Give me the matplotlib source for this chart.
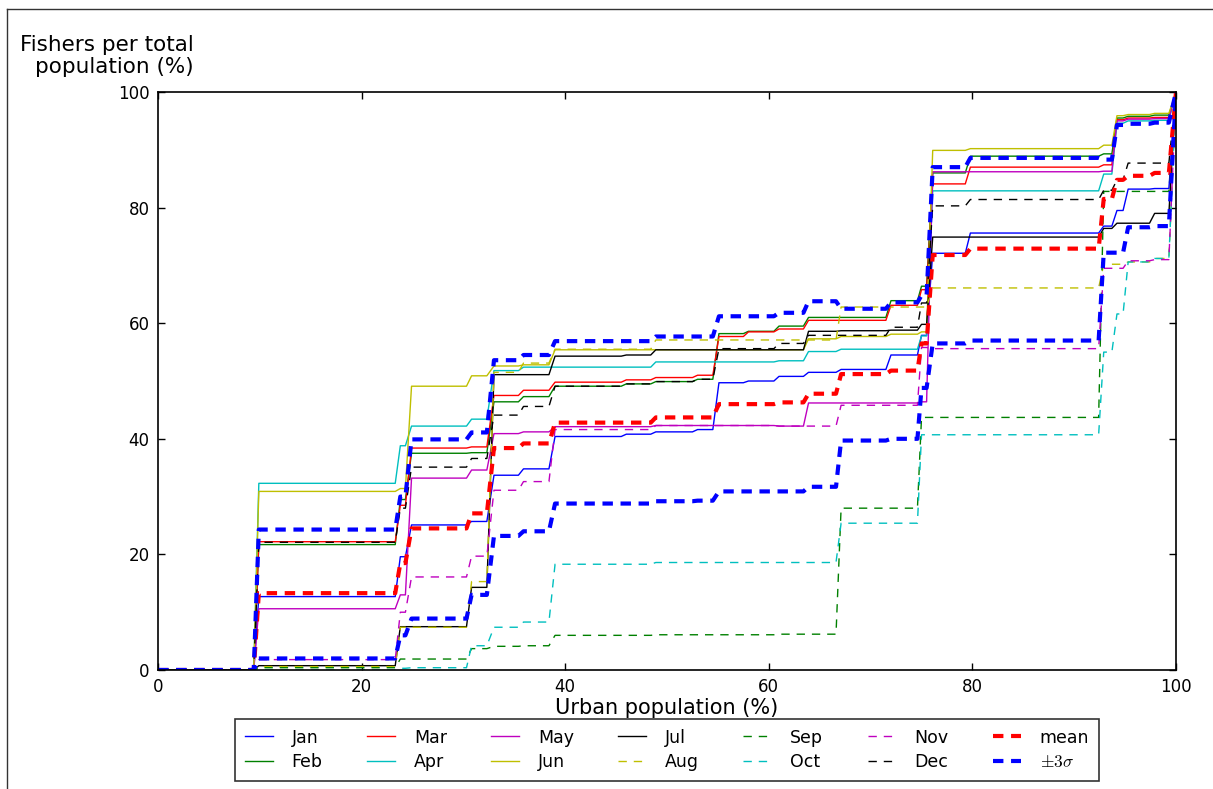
import matplotlib.pyplot as plt
from matplotlib.lines import Line2D

plt.rcParams['font.family'] = 'DejaVu Sans'
plt.rcParams['mathtext.fontset'] = 'cm'
plt.rcParams['lines.scale_dashes'] = False

# flat runs of the cumulative curves, run i goes from seg_start[i] to seg_end[i]
seg_start = [0, 9.9, 23.8, 24.9, 30.8, 33.0, 35.9, 39.0, 46.0, 48.9, 53.0, 55.1, 58.0,
             61.0, 63.9, 67.1, 72.0, 75.0, 76.1, 79.8, 92.9, 94.2, 95.3, 97.9, 100]
seg_end = [9.4, 23.3, 24.3, 30.3, 32.3, 35.4, 38.4, 45.5, 48.4, 52.5, 54.5, 57.5, 60.5,
           63.4, 66.6, 71.5, 74.6, 75.5, 79.3, 92.4, 93.7, 94.8, 97.4, 99.3, 100]

jan = [0, 12.7, 19.6, 25.1, 25.7, 33.7, 34.8, 40.4, 40.8, 41.2, 41.6, 49.7, 50.0,
       50.8, 51.5, 52.0, 54.5, 57.9, 72.1, 75.6, 76.8, 79.5, 83.2, 83.3, 100]
feb = [0, 21.7, 29.5, 37.5, 37.6, 46.4, 47.3, 49.1, 49.5, 49.9, 50.3, 58.2, 58.6,
       59.5, 61.0, 61.0, 63.9, 66.4, 86.0, 88.9, 89.3, 95.5, 95.8, 96.0, 100]
mar = [0, 22.2, 28.5, 38.4, 38.6, 47.5, 48.4, 49.8, 50.2, 50.6, 51.0, 57.7, 58.5,
       59.0, 60.5, 60.5, 63.1, 65.8, 84.1, 87.0, 87.4, 95.2, 95.5, 95.6, 100]
apr = [0, 32.3, 38.8, 42.2, 43.4, 51.8, 52.4, 52.4, 52.4, 53.3, 53.3, 53.3, 53.3,
       53.5, 55.1, 55.5, 55.5, 57.8, 82.9, 82.9, 85.8, 94.6, 95.0, 95.1, 100]
may = [0, 10.6, 13.0, 33.2, 34.6, 40.9, 41.2, 42.1, 42.1, 42.3, 42.3, 42.3, 42.3,
       42.2, 46.2, 46.2, 46.2, 46.4, 86.2, 86.2, 86.3, 95.0, 95.3, 95.4, 100]
jun = [0, 30.9, 31.4, 49.1, 50.9, 52.6, 52.8, 55.4, 55.4, 55.4, 55.4, 55.4, 55.4,
       55.4, 57.3, 57.7, 58.1, 58.5, 89.9, 90.2, 90.8, 95.9, 96.1, 96.3, 100]
jul = [0, 0.75, 7.5, 7.5, 14.3, 51.1, 51.1, 54.3, 54.5, 55.4, 55.4, 55.4, 55.4,
       55.4, 58.6, 58.7, 58.8, 59.8, 74.9, 74.9, 76.4, 77.3, 77.3, 79.0, 100]
aug = [0, 0.6, 7.4, 7.4, 15.3, 51.5, 53.1, 55.5, 55.5, 57.1, 57.1, 57.1, 57.1,
       57.1, 57.1, 62.8, 62.8, 62.8, 66.1, 66.1, 70.2, 70.2, 70.6, 71.2, 100]
sep = [0, 0.4, 1.9, 1.9, 3.7, 4.1, 4.2, 6.0, 6.0, 6.1, 6.1, 6.1, 6.1,
       6.2, 6.2, 28.0, 28.0, 43.7, 43.7, 43.7, 82.8, 82.8, 82.8, 82.8, 100]
oct_ = [0, 0.0, 0.3, 0.4, 4.2, 7.4, 8.3, 18.3, 18.3, 18.6, 18.6, 18.6, 18.6,
        18.6, 18.6, 25.4, 25.4, 40.7, 40.7, 40.7, 55.0, 61.6, 70.6, 71.2, 100]
nov = [0, 1.8, 10.0, 16.1, 19.7, 31.1, 32.6, 41.6, 41.6, 42.3, 42.3, 42.3, 42.3,
       42.2, 42.2, 45.8, 45.8, 55.8, 55.6, 55.6, 69.5, 69.5, 70.8, 71.0, 100]
dec = [0, 22.1, 28.0, 35.1, 36.6, 44.1, 45.6, 49.1, 49.5, 49.9, 50.3, 55.6, 55.6,
       56.5, 57.9, 57.9, 59.3, 63.5, 80.3, 81.4, 83.0, 84.8, 87.7, 87.7, 100]
mean = [0, 13.3, 18.5, 24.5, 27.1, 38.4, 39.2, 42.8, 42.8, 43.7, 43.7, 46.0, 46.0,
        46.3, 47.8, 51.2, 51.8, 56.5, 71.8, 72.9, 81.5, 84.8, 85.5, 86.0, 100]
upper = [0, 24.3, 30.0, 39.9, 41.1, 53.6, 54.5, 56.9, 56.9, 57.7, 57.7, 61.2, 61.2,
         61.8, 63.8, 62.5, 63.6, 64.8, 87.0, 88.6, 88.3, 94.3, 94.5, 94.7, 100]
lower = [0, 2.0, 6.0, 8.9, 13.0, 23.2, 24.0, 28.8, 28.8, 29.2, 29.3, 30.9, 30.9,
         30.9, 31.7, 39.7, 40.0, 48.8, 56.5, 57.0, 72.2, 72.2, 76.6, 76.8, 100]

months = ['Jan', 'Feb', 'Mar', 'Apr', 'May', 'Jun', 'Jul',
          'Aug', 'Sep', 'Oct', 'Nov', 'Dec']
month_vals = [jan, feb, mar, apr, may, jun, jul, aug, sep, oct_, nov, dec]

B = (0, 0, 1)
G = (0, 0.5, 0)
R = (1, 0, 0)
C = (0, 0.75, 0.75)
M = (0.75, 0, 0.75)
Y = (0.75, 0.75, 0)
K = (0, 0, 0)
month_colors = [B, G, R, C, M, Y, K, Y, G, C, M, K]


def steps(levels):
    xs, ys = [], []
    for a, b, v in zip(seg_start, seg_end, levels):
        xs += [a, b]
        ys += [v, v]
    return xs, ys


fig = plt.figure(figsize=(12.13, 7.89), dpi=100)
ax = fig.add_axes([0.1303, 0.1508, 0.8392, 0.7326])

thin_dash = (6, 5)
thick_dash = (7.5, 5.5)

for i, (name, vals) in enumerate(zip(months, month_vals)):
    xs, ys = steps(vals)
    if i < 7:
        ax.plot(xs, ys, color=month_colors[i], lw=1.0, label=name)
    else:
        ax.plot(xs, ys, color=month_colors[i], lw=1.0, dashes=thin_dash, label=name)

xs, ys = steps(mean)
ax.plot(xs, ys, color=R, lw=3, dashes=thick_dash, label='mean')
xs, ys = steps(upper)
ax.plot(xs, ys, color=B, lw=3, dashes=thick_dash, label=r'$\pm3\sigma$')
xs, ys = steps(lower)
ax.plot(xs, ys, color=B, lw=3, dashes=thick_dash)

ax.set_xlim(0, 100)
ax.set_ylim(0, 100)
ax.set_xticks([0, 20, 40, 60, 80, 100])
ax.set_yticks([0, 20, 40, 60, 80, 100])
ax.tick_params(direction='in', top=True, right=True, length=5, width=1,
               labelsize=12, pad=6)
for s in ax.spines.values():
    s.set_linewidth(1.2)

ax.set_xlabel('Urban population (%)', fontsize=15, labelpad=1)
fig.text(194 / 1213, 1 - 35 / 789, 'Fishers per total\npopulation (%)',
         fontsize=15.5, ha='right', va='top', multialignment='right',
         linespacing=1.15)

leg = ax.legend(loc='upper center', bbox_to_anchor=(667 / 1213, 1 - 719 / 789),
                bbox_transform=fig.transFigure, ncol=7, fontsize=12.5,
                frameon=True, fancybox=False, handlelength=1.6,
                handletextpad=1.1, columnspacing=2.55, borderpad=0.55,
                labelspacing=0.4, borderaxespad=0)
leg.get_frame().set_edgecolor('black')
leg.get_frame().set_linewidth(1.2)

# frame around the figure
fig.add_artist(Line2D([7 / 1213, 7 / 1213], [0, 1 - 9 / 789],
                      transform=fig.transFigure, color='#333333', lw=1))
fig.add_artist(Line2D([7 / 1213, 1], [1 - 9 / 789, 1 - 9 / 789],
                      transform=fig.transFigure, color='#333333', lw=1))

fig.savefig('out.png', dpi=100)
